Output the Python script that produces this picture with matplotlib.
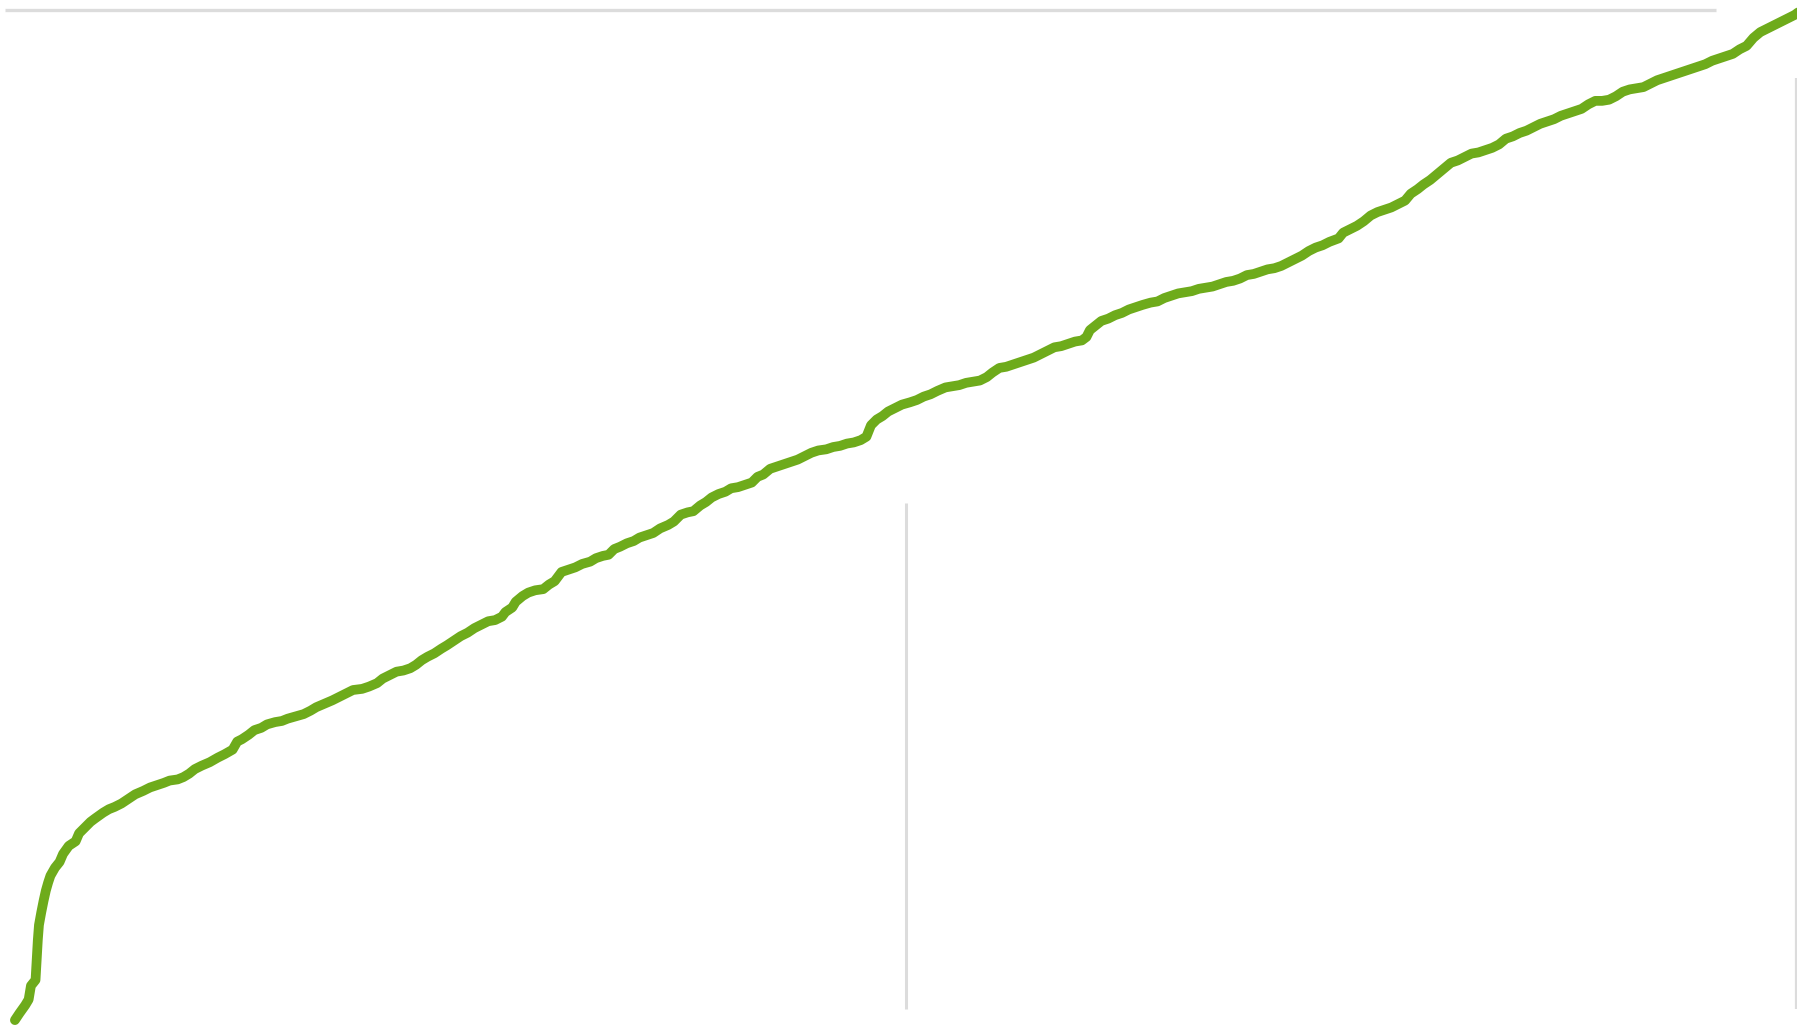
import matplotlib
matplotlib.use("Agg")
import matplotlib.pyplot as plt

# series (x = position, y = value)
xs = [13, 17, 22, 25, 27, 31, 32, 33, 34, 36, 38, 40, 42, 44, 48, 52, 55, 60, 66, 69,
      74, 79, 83, 90, 95, 100, 106, 112, 118, 125, 131, 137, 143, 148, 155, 160, 165, 170, 176, 183,
      190, 196, 203, 207, 211, 217, 222, 228, 233, 240, 246, 251, 258, 265, 271, 276, 283, 290, 296, 302,
      308, 316, 322, 329, 334, 340, 346, 352, 358, 363, 368, 373, 379, 385, 390, 396, 402, 408, 414, 420,
      426, 432, 438, 441, 447, 450, 456, 461, 467, 474, 479, 484, 490, 496, 502, 508, 515, 520, 526, 531,
      536, 541, 547, 553, 558, 564, 570, 576, 583, 588, 594, 600, 605, 611, 616, 621, 627, 633, 638, 644,
      650, 656, 661, 666, 672, 678, 684, 690, 696, 702, 708, 714, 721, 727, 733, 739, 745, 751, 756, 760,
      765, 770, 775, 781, 787, 794, 800, 806, 812, 818, 825, 831, 837, 843, 849, 855, 861, 866, 872, 878,
      884, 890, 896, 902, 908, 914, 920, 926, 932, 938, 944, 948, 951, 956, 961, 967, 973, 979, 985, 991,
      997, 1004, 1010, 1016, 1022, 1028, 1034, 1040, 1046, 1052, 1058, 1064, 1070, 1076, 1082, 1088, 1094, 1100, 1106, 1112,
      1118, 1124, 1130, 1136, 1142, 1148, 1154, 1160, 1168, 1172, 1178, 1184, 1190, 1196, 1202, 1208, 1214, 1220, 1226, 1231,
      1237, 1242, 1248, 1254, 1260, 1266, 1272, 1278, 1284, 1290, 1296, 1302, 1308, 1314, 1320, 1326, 1332, 1338, 1344, 1350,
      1356, 1362, 1368, 1374, 1380, 1386, 1392, 1398, 1404, 1410, 1416, 1422, 1428, 1434, 1440, 1446, 1452, 1458, 1464, 1470,
      1476, 1482, 1488, 1494, 1500, 1506, 1512, 1518, 1524, 1530, 1536, 1542, 1548, 1554, 1560, 1566, 1570]
depth = [890, 884, 877, 872, 860, 855, 838, 820, 807, 796, 786, 777, 770, 764, 757, 752, 745, 738, 734, 727,
         722, 717, 714, 709, 706, 704, 701, 697, 693, 690, 687, 685, 683, 681, 680, 678, 675, 671, 668, 665,
         661, 658, 654, 647, 645, 641, 637, 635, 632, 630, 629, 627, 625, 623, 620, 617, 614, 611, 608, 605,
         602, 601, 599, 596, 592, 589, 586, 585, 583, 580, 576, 573, 570, 566, 563, 559, 555, 552, 548, 545,
         542, 541, 538, 534, 530, 525, 520, 517, 515, 514, 510, 507, 499, 497, 495, 492, 490, 487, 485, 484,
         479, 477, 474, 472, 469, 467, 465, 461, 458, 455, 449, 447, 446, 441, 438, 434, 431, 429, 426, 425,
         423, 421, 416, 414, 409, 407, 405, 403, 401, 398, 395, 393, 392, 390, 389, 387, 386, 384, 381, 371,
         366, 363, 359, 356, 353, 351, 349, 346, 344, 341, 338, 337, 336, 334, 333, 332, 329, 325, 321, 320,
         318, 316, 314, 312, 309, 306, 303, 302, 300, 298, 297, 294, 288, 284, 280, 278, 275, 273, 270, 268,
         266, 264, 263, 260, 258, 256, 255, 254, 252, 251, 250, 248, 246, 245, 243, 240, 239, 237, 235, 234,
         232, 229, 226, 223, 219, 216, 214, 211, 208, 203, 200, 197, 193, 188, 185, 183, 181, 178, 175, 169,
         165, 161, 157, 152, 147, 142, 140, 137, 134, 133, 131, 129, 126, 121, 119, 116, 114, 111, 108, 106,
         104, 101, 99, 97, 95, 91, 88, 88, 87, 84, 80, 78, 77, 76, 73, 70, 68, 66, 64, 62,
         60, 58, 56, 53, 51, 49, 47, 43, 40, 33, 28, 25, 22, 19, 16, 13, 10]
H = 896
ys = [H - d for d in depth]

# reference lines
top_level = H - 9
top_span = (4, 1497)
mid_x = 790.6
mid_span = (H - 880, H - 439)
right_x = 1567
right_span = (H - 880, H - 68)

fig = plt.figure(figsize=(17.97, 10.27), dpi=100)
ax = fig.add_axes([0, 0, 1, 1])
ax.set_xlim(0, 1568)
ax.set_ylim(0, H)
ax.axis("off")

gray = "#dcdcdc"
ax.hlines(top_level, top_span[0], top_span[1], color=gray, linewidth=2.4, zorder=1)
ax.vlines(mid_x, mid_span[0], mid_span[1], color=gray, linewidth=2.2, zorder=1)
ax.vlines(right_x, right_span[0], right_span[1], color=gray, linewidth=1.6, zorder=1)

ax.plot(xs, ys, color="#6eab1b", linewidth=7.0, solid_capstyle="round",
        solid_joinstyle="round", zorder=3, clip_on=False)

fig.savefig("out.png", dpi=100, facecolor="white")
